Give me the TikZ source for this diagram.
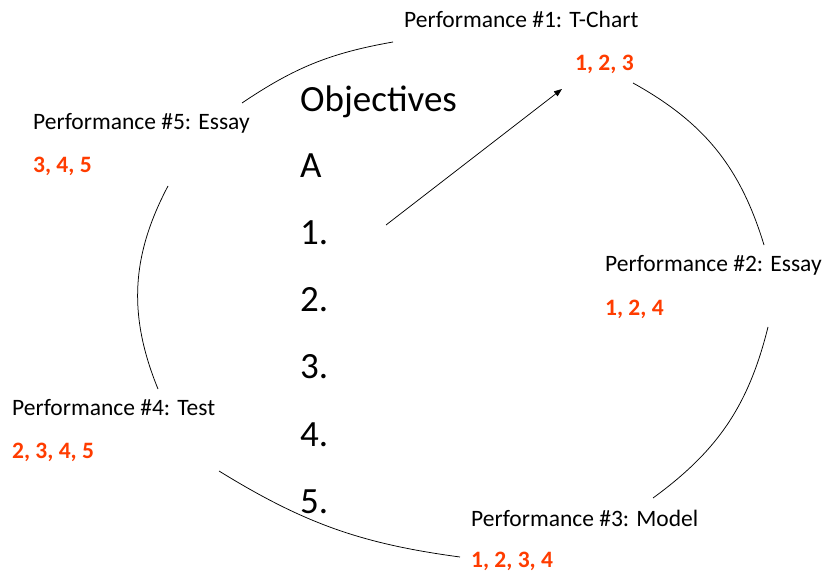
\documentclass[tikz,border=0pt]{standalone}
\usepackage{fontspec}
\setmainfont{Carlito}
\usetikzlibrary{arrows.meta}
\definecolor{numred}{RGB}{255,60,0}

\begin{document}
\begin{tikzpicture}[x=1pt,y=1pt,
		perf/.style={anchor=base west,inner sep=0pt,font=\fontsize{23.5}{28}\selectfont},
		nums/.style={perf,text=numred,font=\fontsize{23.5}{28}\selectfont\bfseries},
		big/.style={anchor=base west,inner sep=0pt,font=\fontsize{37}{44}\selectfont},
		arc/.style={line width=0.75pt}]
		\useasboundingbox (0,0) rectangle (824,573);
		% performances and their objectives
		\node[perf] (p1) at (404,545) {Performance \#1: T-Chart};
		\node[nums] (r1) at (575,502) {1, 2, 3};
		\node[perf] (p2) at (605,301) {Performance \#2: Essay};
		\node[nums] (r2) at (605,257) {1, 2, 4};
		\node[perf] (p3) at (471,47) {Performance \#3: Model};
		\node[nums] (r3) at (471,6) {1, 2, 3, 4};
		\node[perf] (p4) at (12,157) {Performance \#4: Test};
		\node[nums] (r4) at (12,114) {2, 3, 4, 5};
		\node[perf] (p5) at (33,443) {Performance \#5: Essay};
		\node[nums] (r5) at (33,400) {3, 4, 5};
		% objectives list
		\node[big] (obj) at (300,461) {Objectives};
		\node[big] (objA) at (300,395) {A};
		\foreach \i in {1,...,5}
			\node[big] (obj\i) at (300,{328-67*(\i-1)}) {\i.};
		% circle pieces
		\coordinate (c51) at (242,470);
		\coordinate (c15) at (393,531);
		\coordinate (c12) at (633,490);
		\coordinate (c21) at (764,328);
		\coordinate (c23) at (768,246);
		\coordinate (c32) at (653,75);
		\coordinate (c43) at (219,102);
		\coordinate (c34) at (460,16);
		\coordinate (c54) at (168,387);
		\coordinate (c45) at (158,184);
		\draw[arc] (c51) to[bend left=12] (c15);
		\draw[arc] (c12) to[bend left=22] (c21);
		\draw[arc] (c23) to[bend left=20] (c32);
		\draw[arc] (c43) to[bend right=12] (c34);
		\draw[arc] (c54) to[bend right=25] (c45);
		% arrow
		\coordinate (a1) at (386,348);
		\coordinate (a2) at (562,484);
		\draw[arc,-{Triangle[length=8pt,width=6pt]}] (a1) -- (a2);
\end{tikzpicture}
\end{document}
